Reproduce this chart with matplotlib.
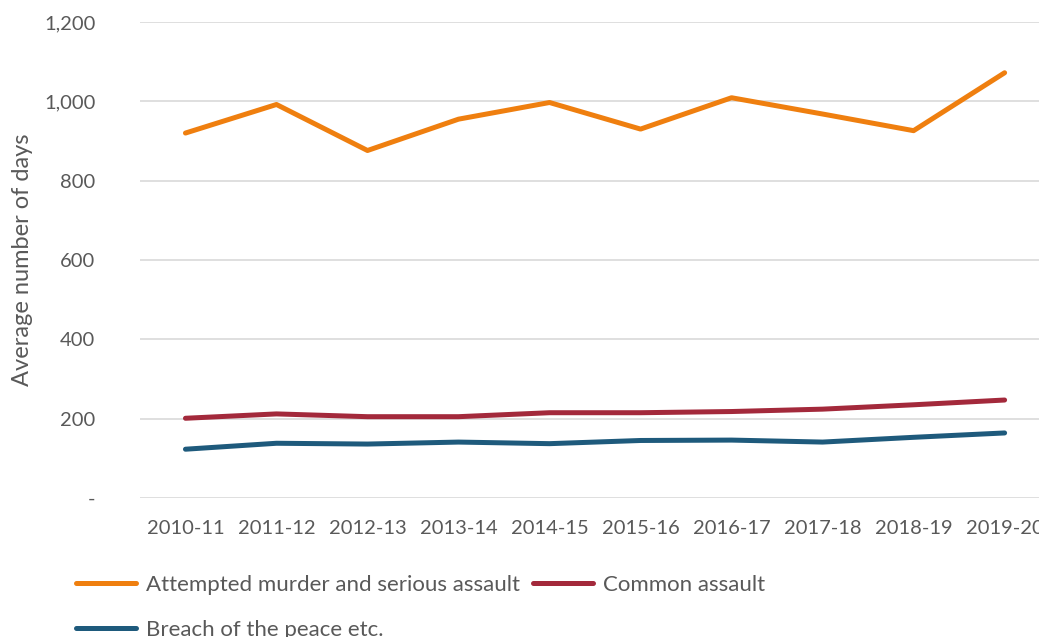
import matplotlib
matplotlib.use("Agg")
import matplotlib.pyplot as plt
from matplotlib.ticker import FuncFormatter

# average number of days per financial year, by crime group
years = ["2010-11", "2011-12", "2012-13", "2013-14", "2014-15",
         "2015-16", "2016-17", "2017-18", "2018-19", "2019-20"]
attempted_murder = [920, 992, 876, 955, 997, 930, 1009, 968, 926, 1072]
common_assault = [201, 212, 205, 205, 215, 215, 218, 224, 235, 247]
breach_of_peace = [123, 138, 136, 141, 137, 145, 146, 141, 153, 164]

plt.rcParams['font.family'] = ['Lato', 'DejaVu Sans']
text_col = '#595959'

fig = plt.figure(figsize=(10.39, 6.37), dpi=100)
ax = fig.add_axes([0.1347, 0.2182, 0.876, 0.7473])

x = range(len(years))
l1, = ax.plot(x, attempted_murder, color='#EF7F0F', lw=3.6, solid_capstyle='round',
              label='Attempted murder and serious assault')
l2, = ax.plot(x, common_assault, color='#A3293B', lw=3.6, solid_capstyle='round',
              label='Common assault')
l3, = ax.plot(x, breach_of_peace, color='#1E5A7C', lw=3.6, solid_capstyle='round',
              label='Breach of the peace etc.')

ax.set_ylim(0, 1200)
ax.set_xlim(-0.5, len(years) - 0.5)
ax.set_yticks(range(0, 1201, 200))
ax.yaxis.set_major_formatter(FuncFormatter(lambda v, p: '-' if v == 0 else f'{int(v):,}'))
ax.set_xticks(list(x))
ax.set_xticklabels(years)
ax.grid(axis='y', color='#D9D9D9', lw=1.2)
ax.set_axisbelow(True)
for s in ax.spines.values():
    s.set_visible(False)
ax.tick_params(axis='both', length=0, labelsize=14.5, colors=text_col)
ax.tick_params(axis='y', pad=32)
ax.tick_params(axis='x', pad=16)
ax.set_ylabel('Average number of days', fontsize=17, color=text_col)
ax.yaxis.set_label_coords(-0.118, 0.5)

fig.legend(handles=[l1, l3, l2], loc='upper left', bbox_to_anchor=(0.065, 0.112),
           ncol=2, frameon=False, fontsize=16, labelcolor=text_col,
           handlelength=2.7, handletextpad=0.45, columnspacing=0.55,
           labelspacing=1.15, borderaxespad=0)

fig.savefig('out.png', dpi=100)
